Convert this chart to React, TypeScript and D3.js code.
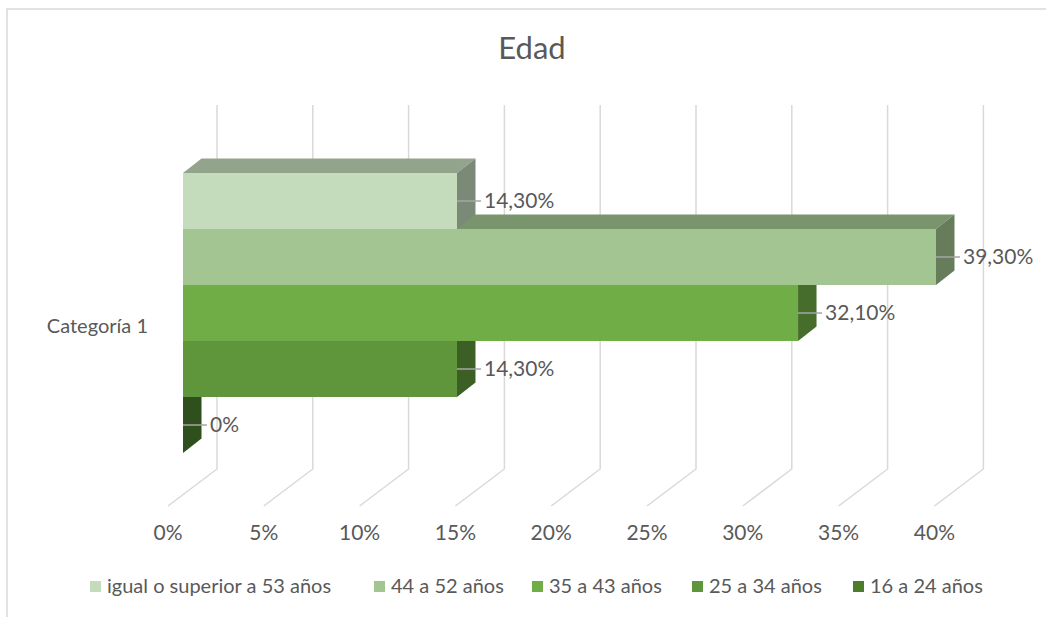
import * as d3 from 'd3';
import React from 'react';

const title = 'Edad';
const category = 'Categoría 1';
const seriesNames = [
  'igual o superior a 53 años',
  '44 a 52 años',
  '35 a 43 años',
  '25 a 34 años',
  '16 a 24 años',
];
const values = [0.143, 0.393, 0.321, 0.143, 0];
const valueLabels = ['14,30%', '39,30%', '32,10%', '14,30%', '0%'];
const tickValues = [0, 0.05, 0.1, 0.15, 0.2, 0.25, 0.3, 0.35, 0.4];
const tickLabels = ['0%', '5%', '10%', '15%', '20%', '25%', '30%', '35%', '40%'];
const colors = ['#C4DBBC', '#A2C591', '#70AD47', '#5F963B', '#4B7D2C'];

const W = 1046;
const H = 617;
const FONT = 'Lato, Carlito, Calibri, sans-serif';
const TEXT = '#595959';

// 3D offsets
const barDX = 18.5;
const barDY = 14.4;
const wallDX = 34;
const floorDX = -15;
const wallTop = 105;
const floorBack = 469;
const floorFront = 506;

// legend item positions (layout)
const legendX = [90, 374, 532, 692, 853];

function shade(c: string, k: number) {
  const r = d3.rgb(c);
  return d3.rgb(r.r * k, r.g * k, r.b * k).formatHex();
}

export default function App() {
  const x = d3.scaleLinear().domain([0, 0.4]).range([183, 949.4]);
  const y = d3.scaleBand().domain(seriesNames).range([173, 453]).paddingInner(0);
  const bh = y.bandwidth();
  const sq = 11;

  const order = d3.range(seriesNames.length).reverse();

  return (
    <svg width={W} height={H} style={{ position: 'absolute', left: 0, top: 0 }}>
      <rect x={0} y={0} width={W} height={H} fill="#fff" />
      <rect x={7} y={9} width={W + 20} height={H + 20} fill="#fff" stroke="#d9d9d9" strokeWidth={1.5} />
      <text x={532} y={59} textAnchor="middle" fontFamily={FONT} fontSize={31} fill={TEXT}>
        {title}
      </text>

      {/* gridlines: back wall + floor */}
      {tickValues.map((t) => (
        <polyline
          key={t}
          points={`${x(t) + wallDX},${wallTop} ${x(t) + wallDX},${floorBack} ${x(t) + floorDX},${floorFront}`}
          fill="none"
          stroke="#d9d9d9"
          strokeWidth={1.5}
        />
      ))}

      {/* bars, bottom first */}
      {order.map((i) => {
        const name = seriesNames[i];
        const x0 = x(0);
        const x1 = x(values[i]);
        const y0 = y(name) as number;
        const y1 = y0 + bh;
        const c = colors[i];
        return (
          <g key={name}>
            <polygon
              points={`${x0},${y0} ${x0 + barDX},${y0 - barDY} ${x1 + barDX},${y0 - barDY} ${x1},${y0}`}
              fill={shade(c, 0.75)}
            />
            <polygon
              points={`${x1},${y0} ${x1 + barDX},${y0 - barDY} ${x1 + barDX},${y1 - barDY} ${x1},${y1}`}
              fill={shade(c, 0.63)}
            />
            <rect x={x0} y={y0} width={x1 - x0} height={bh} fill={c} />
          </g>
        );
      })}

      {/* data labels */}
      {seriesNames.map((name, i) => {
        const cy = (y(name) as number) + bh / 2;
        const xe = x(values[i]);
        return (
          <g key={name}>
            <line x1={xe} x2={xe + 24} y1={cy} y2={cy} stroke="#a6a6a6" strokeWidth={1.5} />
            <text x={xe + 27} y={cy} dy="0.35em" fontFamily={FONT} fontSize={21} fill={TEXT}>
              {valueLabels[i]}
            </text>
          </g>
        );
      })}

      {/* category label */}
      <text x={148} y={326} dy="0.35em" textAnchor="end" fontFamily={FONT} fontSize={20} fill={TEXT}>
        {category}
      </text>

      {/* value axis labels */}
      {tickValues.map((t, i) => (
        <text key={t} x={x(t) + floorDX} y={533} dy="0.35em" textAnchor="middle" fontFamily={FONT} fontSize={21} fill={TEXT}>
          {tickLabels[i]}
        </text>
      ))}

      {/* legend */}
      {seriesNames.map((n, i) => (
        <g key={n}>
          <rect x={legendX[i]} y={581} width={sq} height={sq} fill={colors[i]} />
          <text x={legendX[i] + sq + 6} y={593} fontFamily={FONT} fontSize={20} fill={TEXT}>
            {n}
          </text>
        </g>
      ))}
    </svg>
  );
}
